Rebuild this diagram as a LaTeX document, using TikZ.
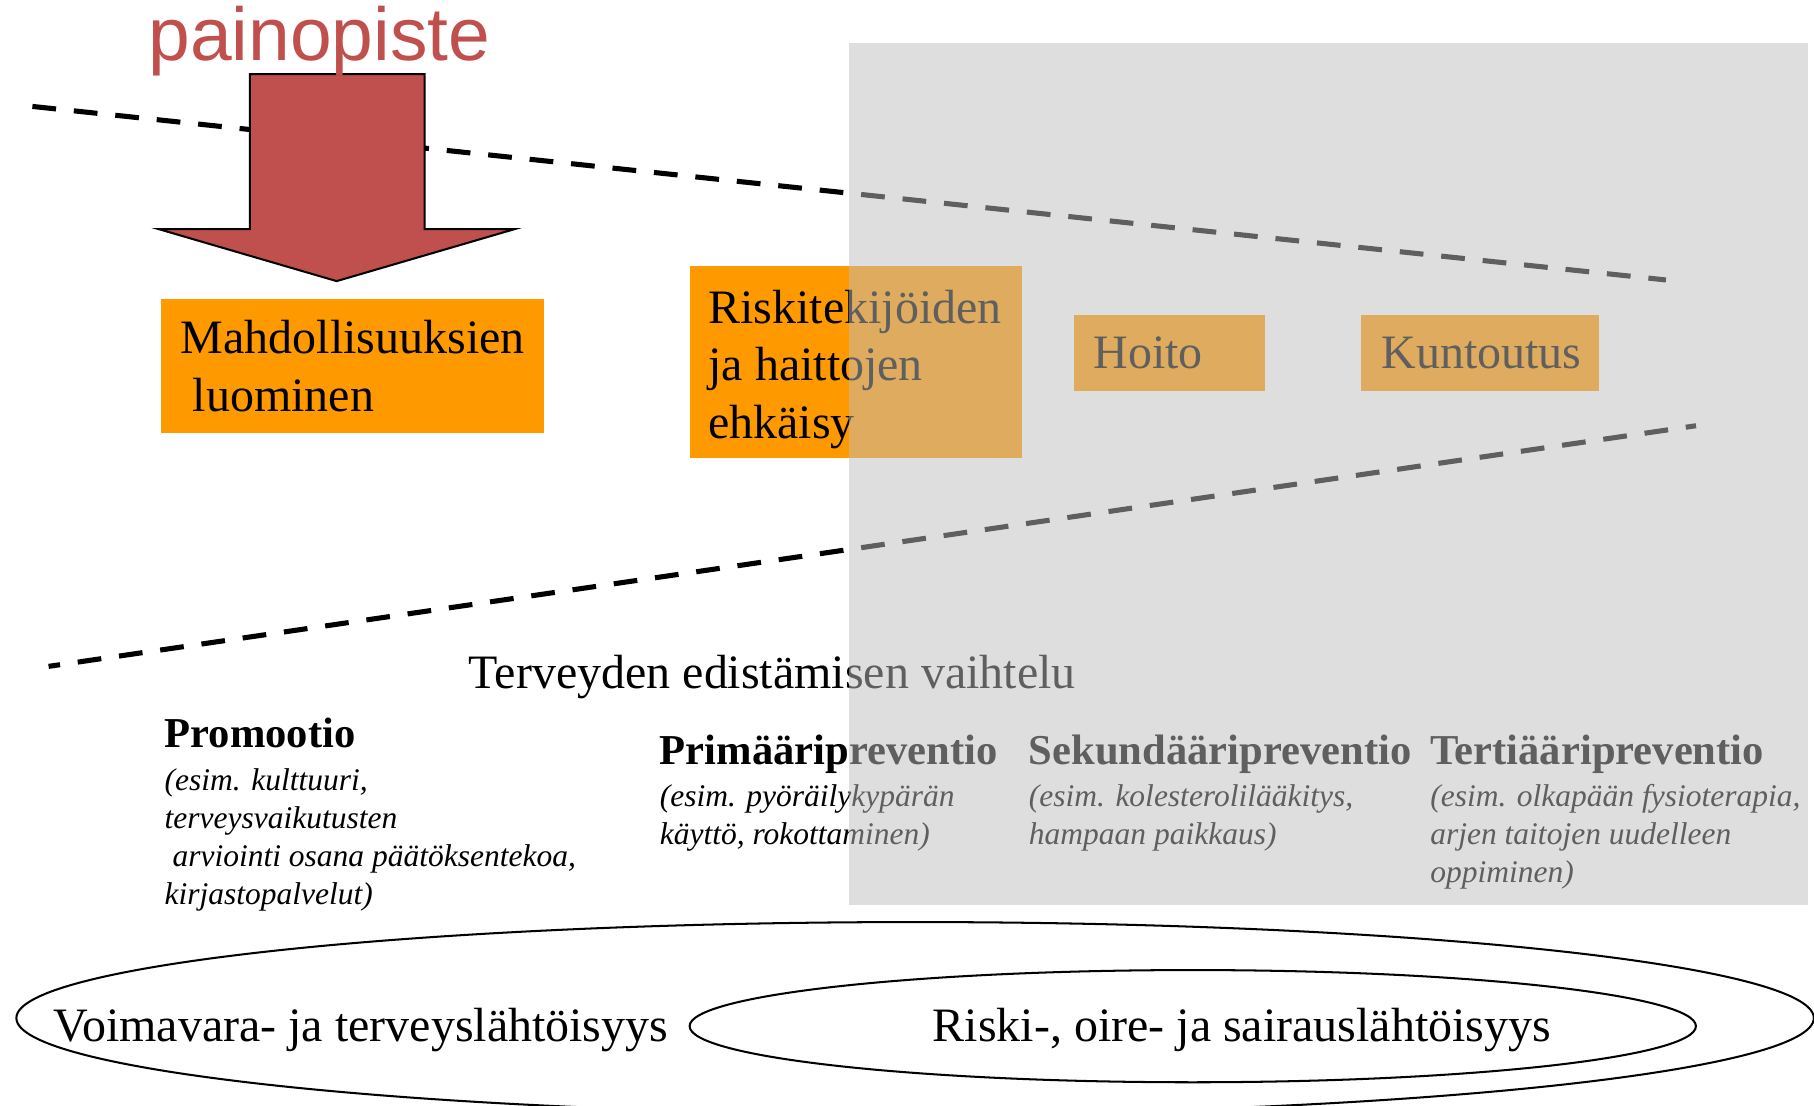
\documentclass[tikz,border=0pt]{standalone}
\usepackage{fontspec}
\setmainfont{Liberation Serif}
\newfontfamily\titlesans{Liberation Sans}
\usepackage{xcolor}
\usepackage{tikz}
\usetikzlibrary{positioning}

\definecolor{weightred}{RGB}{192,80,77}
\definecolor{boxorange}{RGB}{255,153,0}
\definecolor{shadegray}{RGB}{190,190,190}

\begin{document}
\begin{tikzpicture}[x=0.02cm,y=-0.02cm,
    dashline/.style={line width=2.5pt,dash pattern=on 11.7pt off 8.8pt},
    box/.style={fill=boxorange,inner sep=0pt,anchor=north west},
    boxtext/.style={font=\fontsize{23.6pt}{28.3pt}\selectfont,align=left,inner sep=0pt,anchor=west},
    heading/.style={font=\fontsize{20.95pt}{24pt}\selectfont\bfseries,inner sep=0pt,anchor=base west},
    example/.style={font=\fontsize{15.5pt}{18.7pt}\selectfont\itshape,align=left,inner sep=0pt,anchor=north west},
    plaintext/.style={font=\fontsize{23.6pt}{28pt}\selectfont,inner sep=0pt,anchor=base west}]

  \clip (0,0) rectangle (1568,956);

  % the two dashed borders
  \coordinate (TopStart) at (28,92);
  \coordinate (TopEnd)   at (1440,242);
  \coordinate (LowStart) at (42,576);
  \coordinate (LowEnd)   at (1466,368);
  \draw [dashline] (TopStart) -- (TopEnd);
  \draw [dashline,dash phase=6pt] (LowStart) -- (LowEnd);

  % the big arrow
  \coordinate (A1) at (216,64);
  \coordinate (A2) at (367,64);
  \coordinate (A3) at (367,198);
  \coordinate (A4) at (445,198);
  \coordinate (A5) at (291,243);
  \coordinate (A6) at (137,198);
  \coordinate (A7) at (216,198);
  \draw [fill=weightred,line width=1pt] (A1) -- (A2) -- (A3) -- (A4) -- (A5) -- (A6) -- (A7) -- cycle;
  \node [font=\titlesans\fontsize{36.9pt}{40pt}\selectfont,text=weightred,inner sep=0pt,anchor=base west] (weight) at (128,52) {painopiste};

  % boxes
  \node [box,minimum width=6.62cm,minimum height=2.32cm] (chances) at (139,258) {};
  \node [boxtext,right=0.34cm of chances.west] (chancestext) {Mahdollisuuksien\\\ luominen};

  \node [box,minimum width=5.74cm,minimum height=3.32cm] (risks) at (596,230) {};
  \node [boxtext,right=0.32cm of risks.west,yshift=-0.12cm] (riskstext) {Riskitekijöiden\\ja haittojen\\ehkäisy};

  \node [box,minimum width=3.30cm,minimum height=1.32cm] (care) at (928,272) {};
  \node [boxtext,right=0.34cm of care.west] (caretext) {Hoito};

  \node [box,minimum width=4.12cm,minimum height=1.32cm] (rehab) at (1176,272) {};
  \node [boxtext,right=0.36cm of rehab.west] (rehabtext) {Kuntoutus};

  \node [plaintext] (range) at (405,595) {Terveyden edistämisen vaihtelu};

  % the four levels
  \node [heading] (promo) at (142,646) {Promootio};
  \node [example] (promoex) at (142,664) {(esim. kulttuuri,\\terveysvaikutusten\\\ arviointi osana päätöksentekoa,\\kirjastopalvelut)};

  \node [heading] (prim) at (570,661) {Primääripreventio};
  \node [example] (primex) at (570,678) {(esim. pyöräilykypärän\\käyttö, rokottaminen)};

  \node [heading] (sec) at (889,661) {Sekundääripreventio};
  \node [example] (secex) at (889,678) {(esim. kolesterolilääkitys,\\hampaan paikkaus)};

  \node [heading] (tert) at (1236,661) {Tertiääripreventio};
  \node [example] (tertex) at (1236,678) {(esim. olkapään fysioterapia,\\arjen taitojen uudelleen\\oppiminen)};

  % grey veil over the right part
  \coordinate (VeilNW) at (734,37);
  \coordinate (VeilSE) at (1563,782);
  \fill [shadegray,fill opacity=0.5] (VeilNW) rectangle (VeilSE);

  % the two ovals
  \coordinate (OuterC) at (791,880);
  \coordinate (InnerC) at (1031,887);
  \draw [line width=1pt] (OuterC) ellipse [x radius=15.54cm,y radius=1.66cm];
  \draw [line width=1pt] (InnerC) ellipse [x radius=8.70cm,y radius=0.97cm];
  \node [plaintext] (health) at (46,900) {Voimavara- ja terveyslähtöisyys};
  \node [plaintext] (disease) at (806,900) {Riski-, oire- ja sairauslähtöisyys};

\end{tikzpicture}
\end{document}
